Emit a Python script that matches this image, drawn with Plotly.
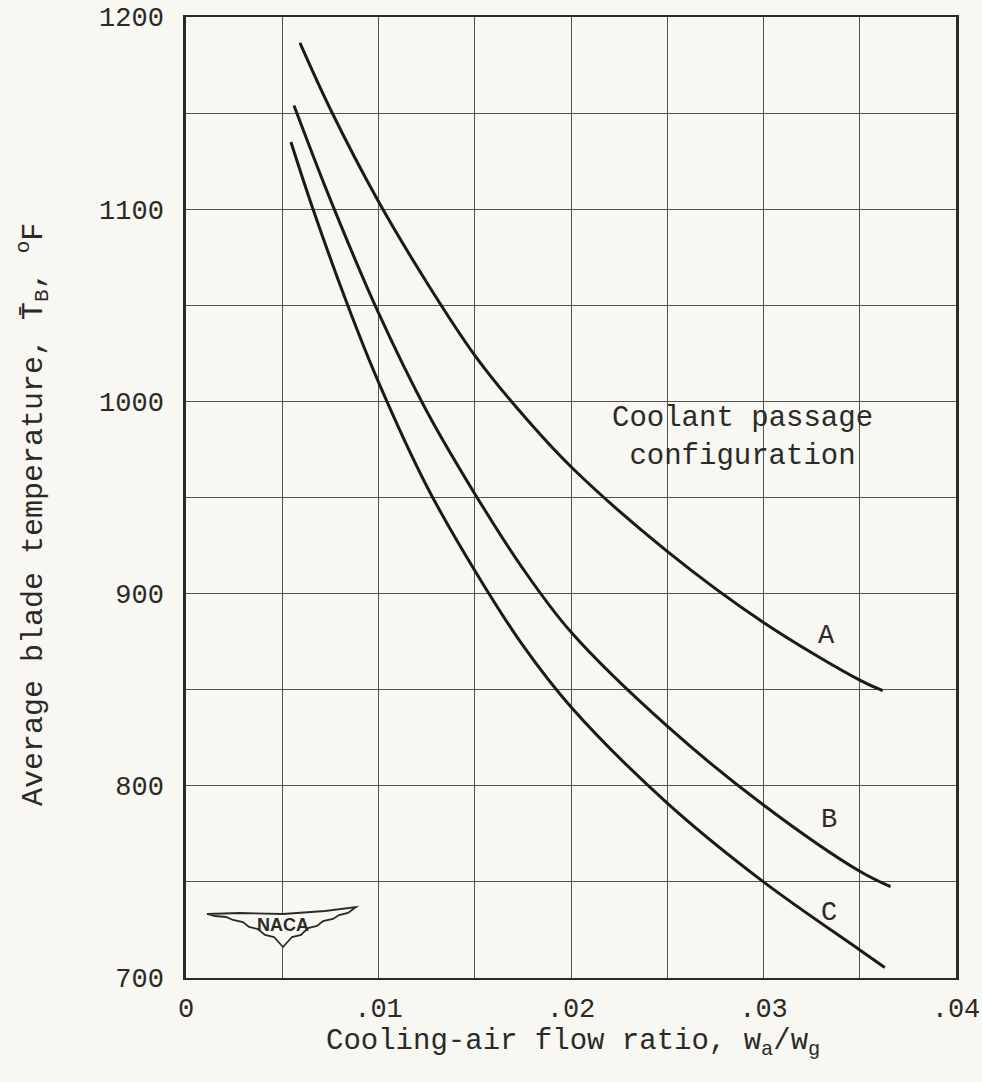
import plotly.graph_objects as go

# ---- data ----
a_x = [0.00592, 0.0075, 0.0100, 0.0125, 0.0150, 0.0175, 0.0200, 0.0250, 0.0300, 0.0350, 0.0362]
a_y = [1186.5, 1152, 1104, 1062, 1024, 993, 966, 922, 885, 855, 849.5]

b_x = [0.00561, 0.0075, 0.0100, 0.0125, 0.0150, 0.0175, 0.0200, 0.0250, 0.0300, 0.0350, 0.0366]
b_y = [1154, 1105, 1046, 995, 952, 913, 880, 831, 790, 755.5, 747.5]

c_x = [0.00545, 0.0066, 0.0084, 0.0100, 0.0125, 0.0150, 0.0175, 0.0200, 0.0250, 0.0300, 0.0350, 0.0363]
c_y = [1135, 1100, 1050, 1010, 956, 912, 873, 841, 791, 750, 714.6, 705.5]

series_names = ["A", "B", "C"]

x_tick_vals = [0, 0.005, 0.01, 0.015, 0.02, 0.025, 0.03, 0.035, 0.04]
x_tick_text = ["0", "", ".01", "", ".02", "", ".03", "", ".04"]
y_tick_vals = [700, 750, 800, 850, 900, 950, 1000, 1050, 1100, 1150, 1200]
y_tick_text = ["700", "", "800", "", "900", "", "1000", "", "1100", "", "1200"]

FONT = "Liberation Mono"
INK = "#2a2a26"
BG = "#f8f7f2"

fig = go.Figure()
for name, xs, ys in zip(series_names, [a_x, b_x, c_x], [a_y, b_y, c_y]):
    fig.add_trace(go.Scatter(x=xs, y=ys, mode="lines", name=name,
                             line=dict(color="#1c1a18", width=3, shape="spline", smoothing=1.0),
                             showlegend=False))

# curve labels
for name, xv, yv in [("A", 0.03325, 878), ("B", 0.0334, 782), ("C", 0.0334, 734)]:
    fig.add_annotation(x=xv, y=yv, text=name, showarrow=False,
                       font=dict(family=FONT, size=27, color=INK))

fig.add_annotation(x=0.0289, y=981, text="Coolant passage<br>configuration", showarrow=False,
                   font=dict(family=FONT, size=29, color=INK), align="center")

# pixel (in reference image) -> paper helper
L, R, T, B = 186, 956, 17, 978
def px(xp, yp):
    return (xp - L) / (R - L), (B - yp) / (B - T)

# axis titles
u, v = px(573, 1043)
fig.add_annotation(x=u, y=v, xref="paper", yref="paper", showarrow=False,
                   xanchor="center", yanchor="middle",
                   text="Cooling-air flow ratio, w<sub>a</sub>/w<sub>g</sub>",
                   font=dict(family=FONT, size=29, color=INK))
u, v = px(33, 515)
fig.add_annotation(x=u, y=v, xref="paper", yref="paper", showarrow=False, textangle=-90,
                   xanchor="center", yanchor="middle",
                   text="Average blade temperature, T\u0304<sub>B</sub>, <sup>o</sup>F",
                   font=dict(family=FONT, size=30, color=INK))

# NACA emblem
wing = [(207, 914), (240, 913), (283, 914), (325, 911), (356, 907), (348, 913), (339, 915), (333, 919),
        (323, 921), (317, 926), (308, 928), (301, 935), (292, 937), (283, 947), (274, 937),
        (265, 935), (258, 929), (249, 927), (243, 922), (233, 920), (226, 917), (215, 916)]
path = ""
for i, (xp, yp) in enumerate(wing):
    u, v = px(xp, yp)
    path += ("M" if i == 0 else "L") + f"{u:.5f},{v:.5f} "
path += "Z"
fig.add_shape(type="path", path=path, xref="paper", yref="paper",
              line=dict(color=INK, width=1.8), fillcolor=BG)
u, v = px(283, 925)
fig.add_annotation(x=u, y=v, xref="paper", yref="paper", text="<b>NACA</b>", showarrow=False,
                   xanchor="center", yanchor="middle",
                   font=dict(family="Liberation Sans", size=18, color=INK))

fig.update_xaxes(range=[0, 0.04], tickvals=x_tick_vals, ticktext=x_tick_text,
                 showgrid=True, gridcolor="#55524c", gridwidth=1.3,
                 showline=True, linecolor=INK, linewidth=2, mirror=True,
                 ticks="", zeroline=False, automargin=False, ticklabelstandoff=5,
                 ticklabeloverflow="allow",
                 tickfont=dict(family=FONT, size=27, color=INK))
fig.update_yaxes(range=[700, 1200], tickvals=y_tick_vals, ticktext=y_tick_text,
                 showgrid=True, gridcolor="#55524c", gridwidth=1.3,
                 showline=True, linecolor=INK, linewidth=2.5, mirror=True,
                 ticks="", zeroline=False, automargin=False, ticklabelstandoff=14,
                 ticklabeloverflow="allow",
                 tickfont=dict(family=FONT, size=27, color=INK))

fig.update_layout(width=982, height=1082,
                  margin=dict(l=186, r=26, t=17, b=104),
                  paper_bgcolor=BG, plot_bgcolor=BG)

fig.write_html("out.html", config={"displayModeBar": False}, post_script=(
    "document.body.style.margin='0';"
    "document.body.style.overflow='hidden';"
    "document.documentElement.style.overflow='hidden';"
    "document.body.style.background='#f8f7f2';"))
